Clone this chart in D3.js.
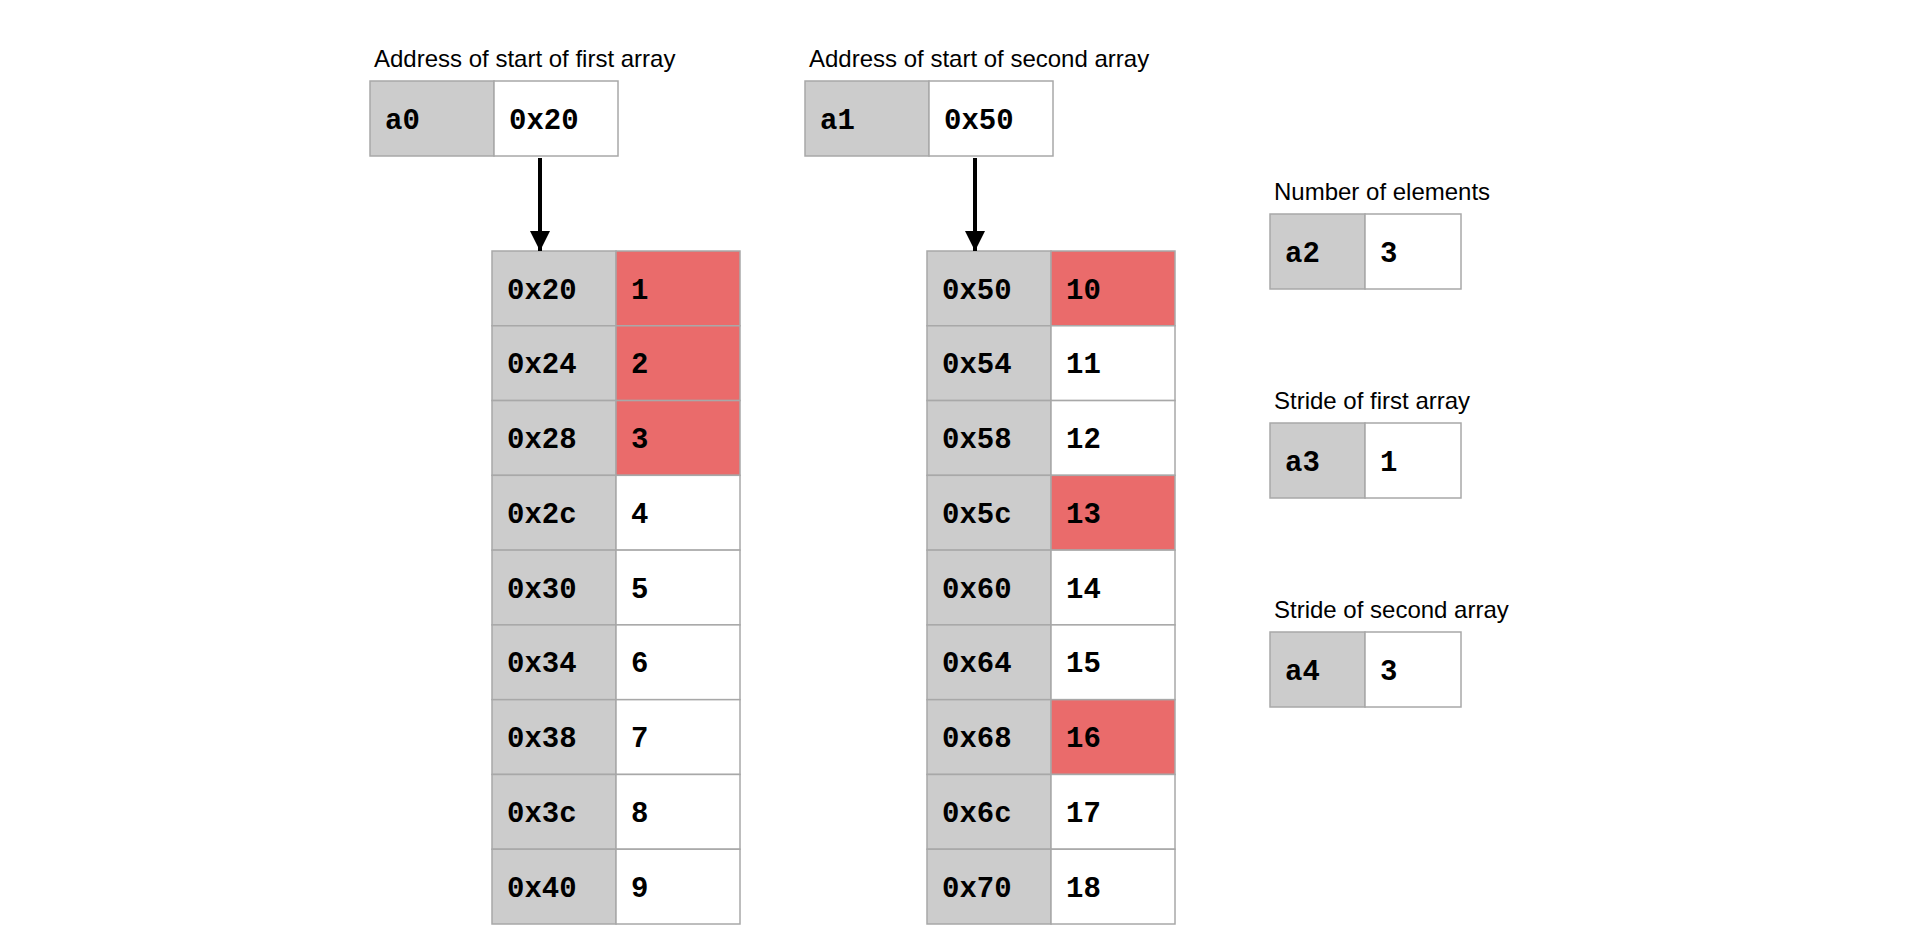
<!DOCTYPE html>
<html><head><meta charset="utf-8">
<script src="https://cdn.jsdelivr.net/npm/d3@7"></script>
<style>body{margin:0;background:#fff}</style></head>
<body><svg id="c" width="1919" height="939"></svg>
<script>
const addr1 = ["0x20","0x24","0x28","0x2c","0x30","0x34","0x38","0x3c","0x40"];
const vals1 = [1,2,3,4,5,6,7,8,9];
const hl1 = [true,true,true,false,false,false,false,false,false];
const addr2 = ["0x50","0x54","0x58","0x5c","0x60","0x64","0x68","0x6c","0x70"];
const vals2 = [10,11,12,13,14,15,16,17,18];
const hl2 = [true,false,false,true,false,false,true,false,false];
const regs = [
  {label:"Address of start of first array", name:"a0", value:"0x20"},
  {label:"Address of start of second array", name:"a1", value:"0x50"},
  {label:"Number of elements", name:"a2", value:"3"},
  {label:"Stride of first array", name:"a3", value:"1"},
  {label:"Stride of second array", name:"a4", value:"3"}
];
const svg = d3.select("#c");
const GRAY="#cccccc", RED="#ea6b6b", STROKE="#a8a8a8";
const mono = "'Liberation Mono','Courier New',monospace";
const y = d3.scaleBand().domain(d3.range(9)).range([251,924]);
function cell(x,yy,w,h,fill,txt){
  svg.append("rect").attr("x",x).attr("y",yy).attr("width",w).attr("height",h)
    .attr("fill",fill).attr("stroke",STROKE).attr("stroke-width",1.5);
  svg.append("text").attr("x",x+15).attr("y",yy+h/2).attr("dy","0.35em")
    .attr("font-family",mono).attr("font-weight","bold").attr("font-size",29).text(txt);
}
function arr(x0,addr,vals,hl){
  addr.forEach((a,i)=>{
    cell(x0,y(i),124,y.bandwidth(),GRAY,a);
    cell(x0+124,y(i),124,y.bandwidth(),hl[i]?RED:"#fff",vals[i]);
  });
}
arr(492,addr1,vals1,hl1);
arr(927,addr2,vals2,hl2);
function reg(r,x,yy,w1,w2){
  svg.append("text").attr("x",x+4).attr("y",yy-14).attr("font-family","Arial,'Liberation Sans',sans-serif")
    .attr("font-size",24).text(r.label);
  cell(x,yy,w1,75,GRAY,r.name);
  cell(x+w1,yy,w2,75,"#fff",r.value);
}
reg(regs[0],370,81,124,124);
reg(regs[1],805,81,124,124);
reg(regs[2],1270,214,95,96);
reg(regs[3],1270,423,95,96);
reg(regs[4],1270,632,95,96);
svg.append("defs").append("marker").attr("id","ah").attr("viewBox","0 0 10 10")
  .attr("refX",10).attr("refY",5).attr("markerWidth",5).attr("markerHeight",6)
  .attr("markerUnits","strokeWidth").attr("orient","auto")
  .append("path").attr("d","M0,0L10,5L0,10Z").attr("fill","#000");
[540,975].forEach(x=>{
  svg.append("line").attr("x1",x).attr("x2",x).attr("y1",158).attr("y2",251)
    .attr("stroke","#000").attr("stroke-width",4).attr("marker-end","url(#ah)");
});
</script></body></html>
